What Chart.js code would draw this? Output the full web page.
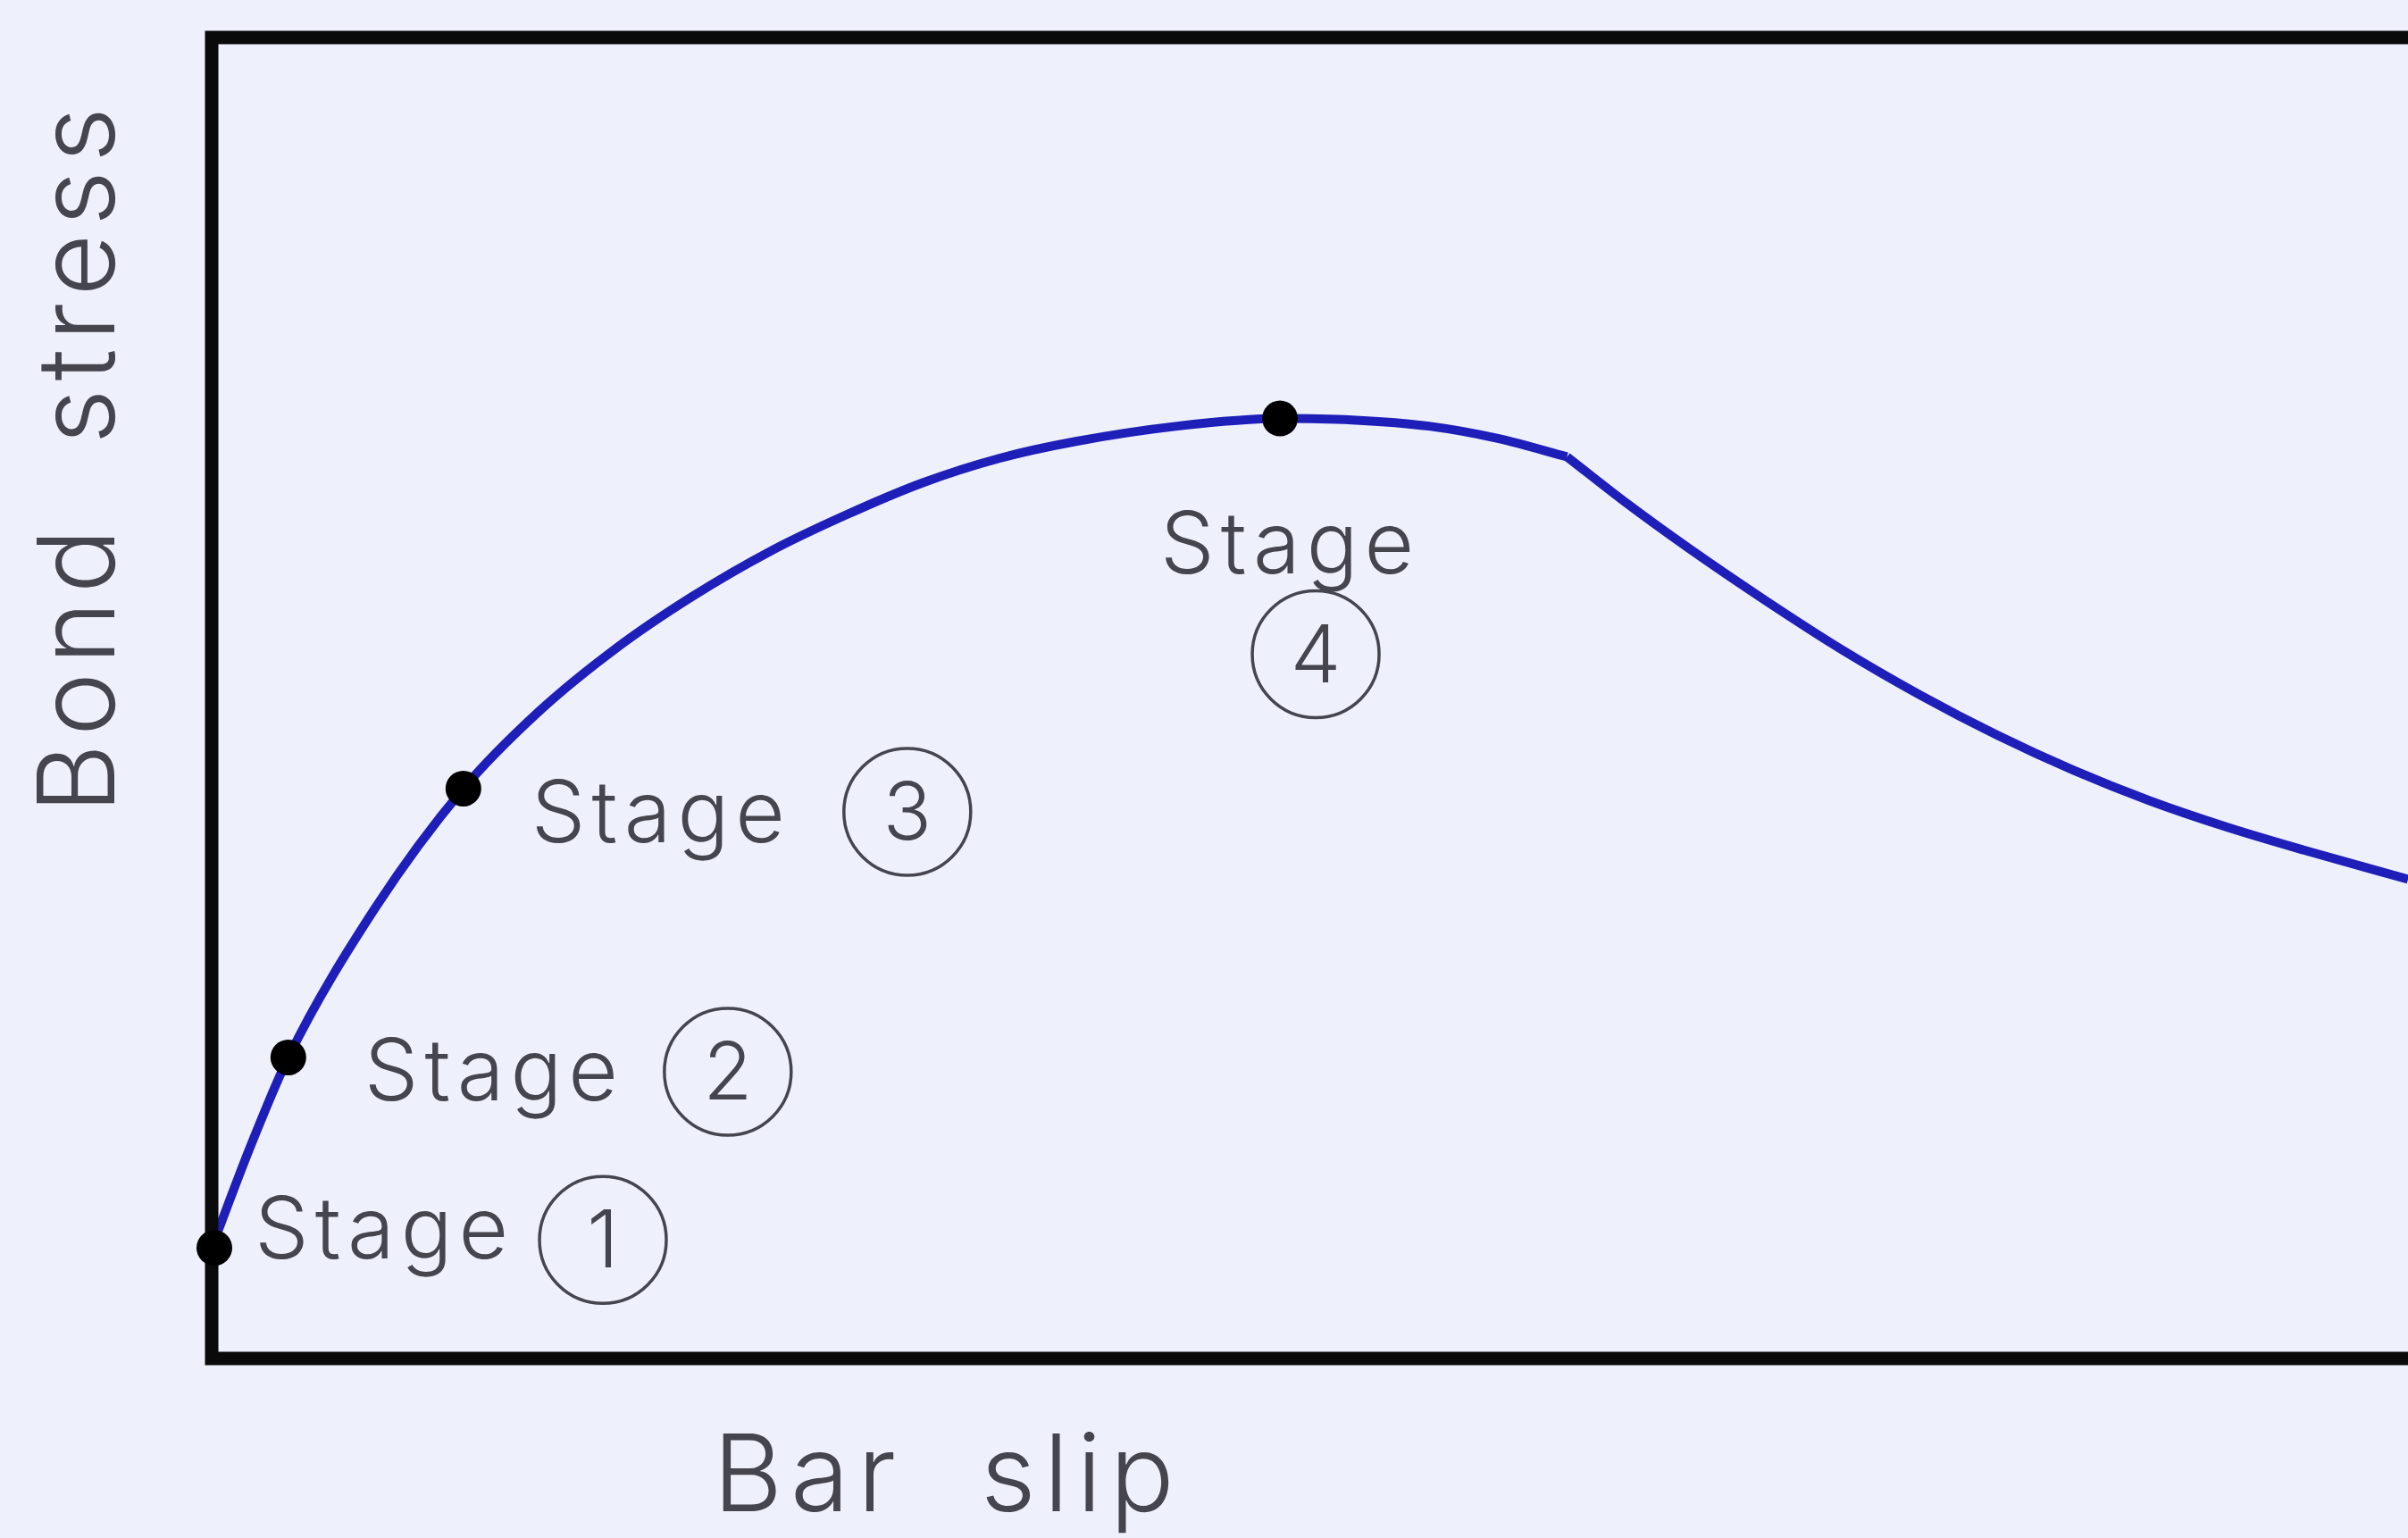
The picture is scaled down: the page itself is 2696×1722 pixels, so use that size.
<!DOCTYPE html>
<html>
<head>
<meta charset="utf-8">
<title>Bond stress vs bar slip</title>
<script src="https://cdn.jsdelivr.net/npm/chart.js@4.4.0/dist/chart.umd.min.js"></script>
<style>
  html, body { margin: 0; padding: 0; background: #eef0fb; }
  #wrap { width: 2696px; height: 1722px; }
</style>
</head>
<body>
<div id="wrap"><canvas id="chart" width="2696" height="1722"></canvas></div>
<script>
// curve, in % of the plot box
var slipRise = [0, 1.82, 3.49, 7.48, 11.46, 14.88, 18.38, 21.87, 25.37, 28.86, 32.35, 35.85, 39.34, 43.96, 48.64, 51.92, 55.42, 58.56, 61.71];
var stressRise = [8.37, 16.28, 22.79, 34.19, 43.14, 48.95, 53.72, 57.67, 61.05, 63.84, 66.28, 68.14, 69.42, 70.58, 71.16, 71.05, 70.58, 69.65, 68.26];
var slipFall = [61.71, 64.5, 67.3, 70.79, 74.28, 77.78, 81.27, 84.77, 88.26, 91.75, 95.25, 100];
var stressFall = [68.26, 64.65, 61.28, 57.33, 53.6, 50.23, 47.21, 44.53, 42.21, 40.23, 38.49, 36.28];

// the four marked stages
var stageSlip = [0, 3.49, 11.46, 48.64];
var stageStress = [8.37, 22.79, 43.14, 71.16];
var stageNames = ['1', '2', '3', '4'];

var xTitle = 'Bar  slip';
var yTitle = 'Bond  stress';

function toPoints(xs, ys) {
  var pts = [];
  for (var i = 0; i < xs.length; i++) {
    pts.push({x: xs[i], y: ys[i]});
  }
  return pts;
}

var textColor = '#45454f';
var fontFamily = 'Inter, "Open Sans", sans-serif';

// where each "Stage" word and its circled number sit, relative to the dot
var labelPlace = [
  {tx: 48, ty: 12, cx: 438, cy: -9},
  {tx: 85, ty: 48, cx: 492, cy: 16},
  {tx: 76, ty: 60, cx: 497, cy: 26},
  {tx: -134, ty: 173, cx: 40, cy: 264}
];

var backdrop = {
  id: 'backdrop',
  beforeDraw: function(chart) {
    var c = chart.ctx;
    c.save();
    c.fillStyle = '#eef0fb';
    c.fillRect(0, 0, chart.width, chart.height);
    c.restore();
  }
};

var frameAndText = {
  id: 'frameAndText',
  afterDatasetsDraw: function(chart) {
    var c = chart.ctx;
    var a = chart.chartArea;
    var xs = chart.scales.x;
    var ys = chart.scales.y;

    // open box: left, top, bottom (right side runs off the picture)
    c.save();
    c.strokeStyle = '#0a0a0a';
    c.lineWidth = 15;
    c.lineCap = 'square';
    c.beginPath();
    c.moveTo(a.right + 10, a.top);
    c.lineTo(a.left, a.top);
    c.lineTo(a.left, a.bottom);
    c.lineTo(a.right + 10, a.bottom);
    c.stroke();
    c.restore();

    // stage dots drawn over the frame
    c.save();
    c.fillStyle = '#000';
    for (var i = 0; i < stageSlip.length; i++) {
      c.beginPath();
      c.arc(xs.getPixelForValue(stageSlip[i]) + (i === 0 ? 3 : 0), ys.getPixelForValue(stageStress[i]), 20, 0, Math.PI * 2);
      c.fill();
    }
    c.restore();

    // stage labels
    c.save();
    c.fillStyle = textColor;
    c.strokeStyle = textColor;
    for (var j = 0; j < stageSlip.length; j++) {
      var px = xs.getPixelForValue(stageSlip[j]);
      var py = ys.getPixelForValue(stageStress[j]);
      var p = labelPlace[j];
      c.font = '300 96px ' + fontFamily;
      c.letterSpacing = '7px';
      c.textAlign = 'left';
      c.textBaseline = 'alphabetic';
      c.fillText('Stage', px + p.tx, py + p.ty);

      c.lineWidth = 3.5;
      c.beginPath();
      c.arc(px + p.cx, py + p.cy, 71, 0, Math.PI * 2);
      c.stroke();
      c.letterSpacing = '0px';
      c.font = '300 90px ' + fontFamily;
      c.textAlign = 'center';
      c.textBaseline = 'middle';
      c.fillText(stageNames[j], px + p.cx, py + p.cy + 4);
    }

    // axis titles
    c.font = '300 120px ' + fontFamily;
    c.letterSpacing = '9px';
    c.textAlign = 'center';
    c.textBaseline = 'alphabetic';
    c.fillText(xTitle, 1061, 1692);

    c.translate(128, 511);
    c.rotate(-Math.PI / 2);
    c.fillText(yTitle, 0, 0);
    c.restore();
  }
};

var ctx = document.getElementById('chart').getContext('2d');
var chart = new Chart(ctx, {
  type: 'line',
  data: {
    datasets: [{
      data: toPoints(slipRise, stressRise),
      borderColor: '#1e1eb9',
      borderWidth: 10,
      pointRadius: 0,
      cubicInterpolationMode: 'monotone',
      clip: false
    }, {
      data: toPoints(slipFall, stressFall),
      borderColor: '#1e1eb9',
      borderWidth: 10,
      pointRadius: 0,
      cubicInterpolationMode: 'monotone',
      clip: false
    }]
  },
  options: {
    responsive: false,
    animation: false,
    layout: {
      padding: {left: 237, top: 42, right: 0, bottom: 201}
    },
    plugins: {
      legend: {display: false},
      tooltip: {enabled: false}
    },
    scales: {
      x: {type: 'linear', min: 0, max: 100, display: false},
      y: {type: 'linear', min: 0, max: 100, display: false}
    }
  },
  plugins: [backdrop, frameAndText]
});
</script>
</body>
</html>
